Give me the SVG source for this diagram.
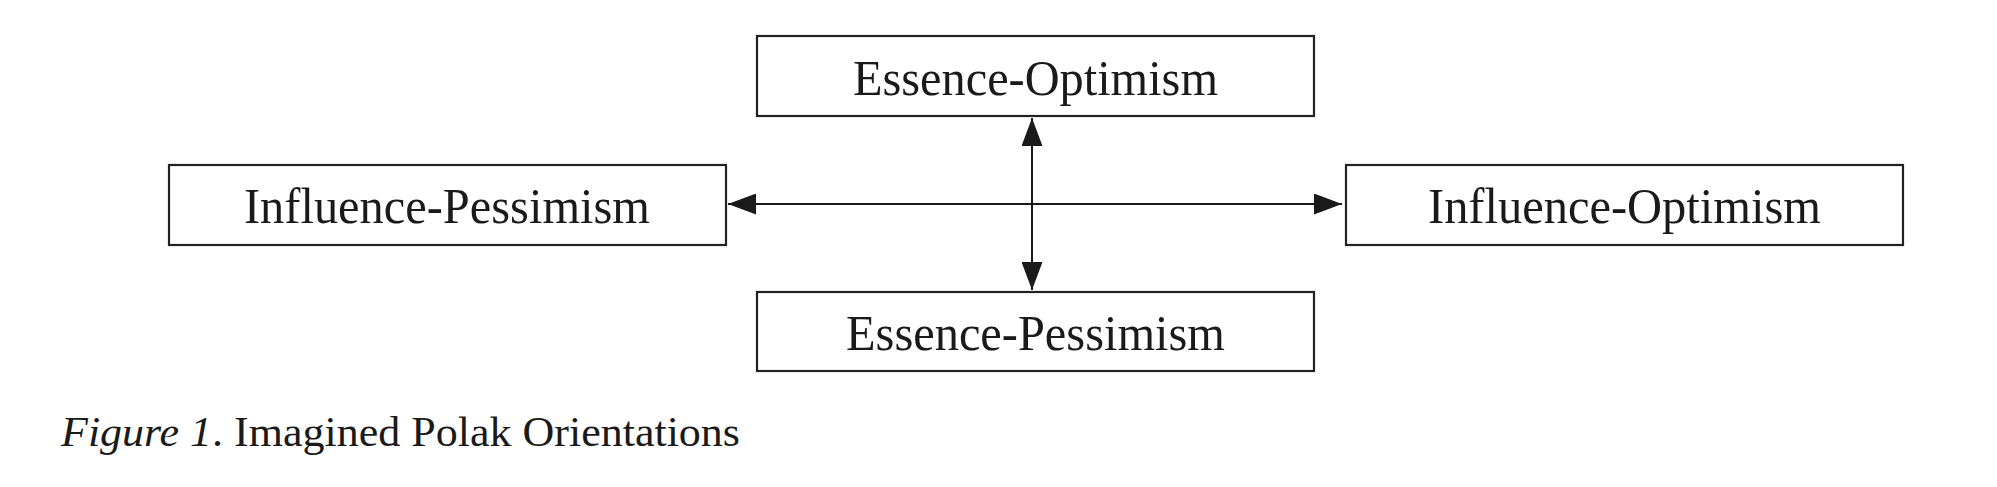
<svg xmlns="http://www.w3.org/2000/svg" width="1997" height="487" viewBox="0 0 1997 487">
  <style>
    .box { fill: #ffffff; stroke: #222222; stroke-width: 2.2; }
    .lbl { font-family: "Liberation Serif", "Times New Roman", serif; font-size: 50px; fill: #1a1a1a; text-anchor: middle; }
    .conn { stroke: #1a1a1a; stroke-width: 2; fill: none; }
    .cap { font-family: "Liberation Serif", "Times New Roman", serif; font-size: 42px; fill: #1a1a1a; }
  </style>
  <defs>
    <marker id="arrow" viewBox="0 0 28 21" refX="28" refY="10.5" markerWidth="28" markerHeight="21" markerUnits="userSpaceOnUse" orient="auto-start-reverse">
      <path d="M0,0 L28,10.5 L0,21 Z" fill="#1a1a1a"/>
    </marker>
  </defs>
  <rect width="1997" height="487" fill="#ffffff"/>
  <g id="connectors">
    <line class="conn" x1="728" y1="204" x2="1342" y2="204" marker-start="url(#arrow)" marker-end="url(#arrow)"/>
    <line class="conn" x1="1032" y1="118" x2="1032" y2="290" marker-start="url(#arrow)" marker-end="url(#arrow)"/>
  </g>
  <g id="essence-optimism">
    <rect class="box" x="757" y="36" width="557" height="80"/>
    <text class="lbl" x="1035.5" y="95" textLength="365" lengthAdjust="spacingAndGlyphs">Essence-Optimism</text>
  </g>
  <g id="influence-pessimism">
    <rect class="box" x="169" y="165" width="557" height="80"/>
    <text class="lbl" x="447" y="223" textLength="406" lengthAdjust="spacingAndGlyphs">Influence-Pessimism</text>
  </g>
  <g id="influence-optimism">
    <rect class="box" x="1346" y="165" width="557" height="80"/>
    <text class="lbl" x="1624.5" y="223" textLength="393" lengthAdjust="spacingAndGlyphs">Influence-Optimism</text>
  </g>
  <g id="essence-pessimism">
    <rect class="box" x="757" y="292" width="557" height="79"/>
    <text class="lbl" x="1035.5" y="350" textLength="379" lengthAdjust="spacingAndGlyphs">Essence-Pessimism</text>
  </g>
  <text class="cap" x="61" y="446" textLength="679" lengthAdjust="spacingAndGlyphs"><tspan font-style="italic">Figure 1</tspan>. Imagined Polak Orientations</text>
</svg>
